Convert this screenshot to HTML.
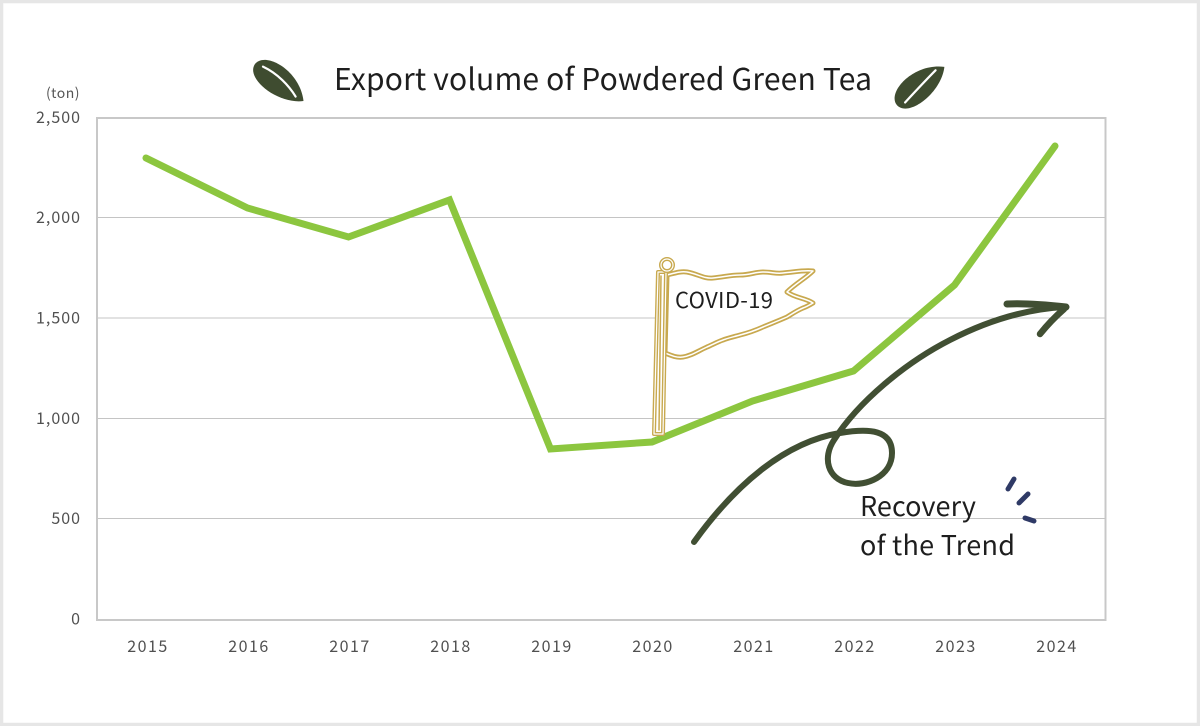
<!DOCTYPE html>
<html>
<head>
<meta charset="utf-8">
<style>
  html, body { margin: 0; padding: 0; background: #ffffff; }
  body { width: 1200px; height: 726px; overflow: hidden; }
  svg { display: block; }
  .t { font-family: "Noto Sans CJK JP", "Liberation Sans", sans-serif; }
</style>
</head>
<body>
<svg width="1200" height="726" viewBox="0 0 1200 726" xmlns="http://www.w3.org/2000/svg">
  <!-- outer frame -->
  <rect x="0" y="0" width="1200" height="726" fill="#ffffff"/>
  <rect x="1.5" y="1.5" width="1197" height="723" fill="none" stroke="#e6e6e6" stroke-width="3.5"/>

  <!-- title leaves -->
  <g transform="translate(279,82) rotate(36)">
    <path d="M-30,0 C-30,-17 10,-22 31,1 C12,19 -29,17 -30,0 Z" fill="#3f4c30"/>
    <path d="M-22,-3 C-6,-6 10,-3 22,2" fill="none" stroke="#ffffff" stroke-width="2.2" stroke-linecap="round"/>
  </g>
  <g transform="translate(920,86) rotate(-40)">
    <path d="M-30,0 C-30,-17 10,-22 31,1 C12,19 -29,17 -30,0 Z" fill="#3f4c30"/>
    <path d="M-22,3 C-6,1 10,-1 22,-2" fill="none" stroke="#ffffff" stroke-width="2.2" stroke-linecap="round"/>
  </g>

  <!-- title -->
  <text class="t" x="334" y="90" font-size="30" fill="#1e1e1e" textLength="538" lengthAdjust="spacing">Export volume of Powdered Green Tea</text>

  <!-- axis unit -->
  <text class="t" x="80" y="98" font-size="14" fill="#555" text-anchor="end" letter-spacing="0.5">(ton)</text>

  <!-- gridlines -->
  <g stroke="#c4c4c4" stroke-width="1">
    <line x1="97" y1="217.5" x2="1105" y2="217.5"/>
    <line x1="97" y1="318" x2="1105" y2="318"/>
    <line x1="97" y1="418.5" x2="1105" y2="418.5"/>
    <line x1="97" y1="518.5" x2="1105" y2="518.5"/>
  </g>
  <!-- plot frame -->
  <rect x="97" y="118" width="1008.5" height="502" fill="none" stroke="#c8c8c8" stroke-width="2"/>

  <!-- y labels -->
  <g class="t" font-size="16" fill="#505050" text-anchor="end" letter-spacing="1">
    <text x="81" y="123">2,500</text>
    <text x="81" y="223">2,000</text>
    <text x="81" y="323.5">1,500</text>
    <text x="81" y="424">1,000</text>
    <text x="81" y="524">500</text>
    <text x="81" y="624.5">0</text>
  </g>

  <!-- x labels -->
  <g class="t" font-size="16" fill="#505050" text-anchor="middle" letter-spacing="1.5">
    <text x="148" y="652">2015</text>
    <text x="249" y="652">2016</text>
    <text x="350" y="652">2017</text>
    <text x="451" y="652">2018</text>
    <text x="552" y="652">2019</text>
    <text x="653" y="652">2020</text>
    <text x="754" y="652">2021</text>
    <text x="855" y="652">2022</text>
    <text x="956" y="652">2023</text>
    <text x="1057" y="652">2024</text>
  </g>

  <!-- data line -->
  <polyline points="146,158 247.5,208 348.5,237 449.5,200 550.5,449 652,442 752.5,401 853.5,371 954.5,285 1055,146"
    fill="none" stroke="#8cc63f" stroke-width="7" stroke-linejoin="miter" stroke-linecap="round"/>

  <!-- COVID flag -->
  <g fill="none" stroke-linejoin="round" stroke-linecap="round">
    <path d="M667,275 C675,273 681,271 687,272 C698,274 704,279 713,278 C724,277 730,275 740,275 C750,275 755,272 763,272 C772,272 776,274 783,273 C795,272 803,270 813,271 C806,278 795,284 787,292 C795,298 806,298 813,303 C808,306 806,307 803,308 C796,311 792,314 787,317 C778,321 770,324 763,327 C754,331 748,333 740,335 C733,337 728,338 723,340 C717,342 712,345 707,347 C698,351 691,356 683,357 C676,358 670,355 665,353 Z"
      fill="#ffffff" stroke="#c8a94f" stroke-width="5"/>
    <path d="M667,275 C675,273 681,271 687,272 C698,274 704,279 713,278 C724,277 730,275 740,275 C750,275 755,272 763,272 C772,272 776,274 783,273 C795,272 803,270 813,271 C806,278 795,284 787,292 C795,298 806,298 813,303 C808,306 806,307 803,308 C796,311 792,314 787,317 C778,321 770,324 763,327 C754,331 748,333 740,335 C733,337 728,338 723,340 C717,342 712,345 707,347 C698,351 691,356 683,357 C676,358 670,355 665,353 Z"
      stroke="#ffffff" stroke-width="1.5"/>
    <!-- pole -->
    <path d="M658,272 L666,272 L663,434 L654,434 Z" fill="#ffffff" stroke="#c8a94f" stroke-width="4"/>
    <path d="M658,272 L666,272 L663,434 L654,434 Z" stroke="#ffffff" stroke-width="1.2"/>
    <line x1="661" y1="276" x2="659" y2="430" stroke="#c8a94f" stroke-width="1.5"/>
    <!-- ring -->
    <circle cx="667" cy="265" r="6" fill="#ffffff" stroke="#c8a94f" stroke-width="4"/>
    <circle cx="667" cy="265" r="6" stroke="#ffffff" stroke-width="1.2"/>
  </g>
  <text class="t" x="675" y="308" font-size="22" fill="#1e1e1e" textLength="98" lengthAdjust="spacing">COVID-19</text>

  <!-- recovery arrow -->
  <g fill="none" stroke="#414f33" stroke-linecap="round" stroke-linejoin="round">
    <path d="M694,542 C735,485 785,442 840,433 C870,428 892,430 892,453 C892,476 866,487 848,483 C828,479 822,458 834,440 C858,402 905,363 950,340 C985,322 1025,309 1065,307" stroke-width="6"/>
    <path d="M1007,304 C1025,303 1048,305 1066,307" stroke-width="7"/>
    <path d="M1040,334 C1048,324 1056,316 1064,309" stroke-width="6.5"/>
  </g>

  <!-- sparkle dashes -->
  <g stroke="#2f3a66" stroke-width="5" stroke-linecap="round">
    <line x1="1008" y1="489" x2="1014" y2="479"/>
    <line x1="1019" y1="503" x2="1028" y2="494"/>
    <line x1="1025" y1="518" x2="1034" y2="521"/>
  </g>

  <!-- recovery text -->
  <text class="t" x="860" y="516" font-size="27" fill="#1e1e1e" textLength="116" lengthAdjust="spacing">Recovery</text>
  <text class="t" x="860" y="555" font-size="27" fill="#1e1e1e" textLength="155" lengthAdjust="spacing">of the Trend</text>
</svg>
</body>
</html>
